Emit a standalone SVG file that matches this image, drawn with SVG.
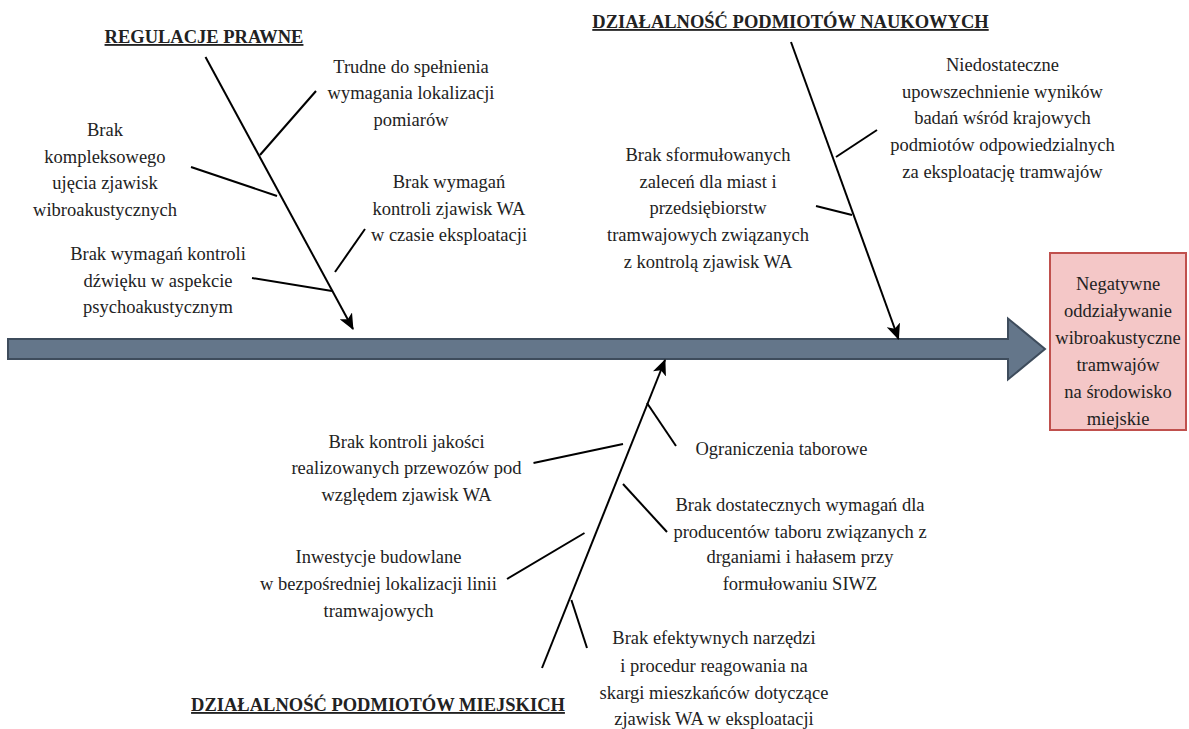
<svg xmlns="http://www.w3.org/2000/svg" width="1189" height="729" viewBox="0 0 1189 729">
<defs>
<style>
text{font-family:"Liberation Serif","Times New Roman",serif;font-size:18.5px;fill:#222;text-anchor:middle}
.title{font-weight:bold;text-decoration:underline}
.bone{stroke:#000;stroke-width:2;fill:none}
.br{stroke:#000;stroke-width:2;fill:none}
</style>
<marker id="ah" viewBox="0 0 16 14" refX="15" refY="7" markerWidth="16" markerHeight="14" markerUnits="userSpaceOnUse" orient="auto">
<path d="M0,0 L16,7 L0,14 L4,7 Z" fill="#000"/>
</marker>
</defs>
<rect width="1189" height="729" fill="#fff"/>
<g id="spine">
<path d="M8,339 H1008 V318.5 L1045,349 L1008,379.5 V359 H8 Z" fill="#64768a" stroke="#3e4c5c" stroke-width="2"/>
</g>
<g id="effect">
<rect x="1050" y="253" width="136" height="177" fill="#f4c7c7" stroke="#c0504d" stroke-width="2"/>
<text x="1118" y="290">Negatywne</text>
<text x="1118" y="317">oddziaływanie</text>
<text x="1118" y="344">wibroakustyczne</text>
<text x="1118" y="371">tramwajów</text>
<text x="1118" y="398">na środowisko</text>
<text x="1118" y="425">miejskie</text>
</g>
<g id="connectors">
<line class="bone" x1="205.5" y1="57" x2="353" y2="329" marker-end="url(#ah)"/>
<line class="bone" x1="791" y1="42" x2="898.5" y2="339" marker-end="url(#ah)"/>
<line class="bone" x1="542" y1="668" x2="665" y2="360" marker-end="url(#ah)"/>
<line class="br" x1="260" y1="155" x2="316" y2="91"/>
<line class="br" x1="191" y1="167" x2="277" y2="196"/>
<line class="br" x1="365" y1="229" x2="335" y2="272"/>
<line class="br" x1="252" y1="278" x2="332" y2="291"/>
<line class="br" x1="836" y1="157" x2="877" y2="130"/>
<line class="br" x1="816" y1="206" x2="852" y2="215"/>
<line class="br" x1="647" y1="403" x2="676" y2="446"/>
<line class="br" x1="623" y1="444" x2="533.5" y2="463"/>
<line class="br" x1="623" y1="484" x2="667" y2="532"/>
<line class="br" x1="584.5" y1="533" x2="507" y2="579"/>
<line class="br" x1="571.4" y1="600" x2="587" y2="648"/>
</g>
<g id="cat-regulacje">
<text class="title" x="204" y="43">REGULACJE PRAWNE</text>
</g>
<g id="cause-trudne">
<text x="411" y="73">Trudne do spełnienia</text>
<text x="411" y="99">wymagania lokalizacji</text>
<text x="411" y="126">pomiarów</text>
</g>
<g id="cause-kompleksowego">
<text x="105" y="136">Brak</text>
<text x="105" y="163">kompleksowego</text>
<text x="105" y="189">ujęcia zjawisk</text>
<text x="105" y="216">wibroakustycznych</text>
</g>
<g id="cause-eksploatacja">
<text x="449" y="188">Brak wymagań</text>
<text x="449" y="215">kontroli zjawisk WA</text>
<text x="449" y="241">w czasie eksploatacji</text>
</g>
<g id="cause-dzwiek">
<text x="158" y="260">Brak wymagań kontroli</text>
<text x="158" y="287">dźwięku w aspekcie</text>
<text x="158" y="313">psychoakustycznym</text>
</g>
<g id="cat-naukowe">
<text class="title" x="790.5" y="28">DZIAŁALNOŚĆ PODMIOTÓW NAUKOWYCH</text>
</g>
<g id="cause-upowszechnienie">
<text x="1002.5" y="71">Niedostateczne</text>
<text x="1002.5" y="98">upowszechnienie wyników</text>
<text x="1002.5" y="124">badań wśród krajowych</text>
<text x="1002.5" y="151">podmiotów odpowiedzialnych</text>
<text x="1002.5" y="178">za eksploatację tramwajów</text>
</g>
<g id="cause-zalecenia">
<text x="708" y="161">Brak sformułowanych</text>
<text x="708" y="188">zaleceń dla miast i</text>
<text x="708" y="214">przedsiębiorstw</text>
<text x="708" y="241">tramwajowych związanych</text>
<text x="708" y="268">z kontrolą zjawisk WA</text>
</g>
<g id="cat-miejskie">
<text class="title" x="378" y="711">DZIAŁALNOŚĆ PODMIOTÓW MIEJSKICH</text>
</g>
<g id="cause-jakosc">
<text x="406.5" y="448">Brak kontroli jakości</text>
<text x="406.5" y="474">realizowanych przewozów pod</text>
<text x="406.5" y="501">względem zjawisk WA</text>
</g>
<g id="cause-taborowe">
<text x="781.5" y="455">Ograniczenia taborowe</text>
</g>
<g id="cause-producenci">
<text x="800" y="511">Brak dostatecznych wymagań dla</text>
<text x="800" y="538">producentów taboru związanych z</text>
<text x="800" y="563">drganiami i hałasem przy</text>
<text x="800" y="590">formułowaniu SIWZ</text>
</g>
<g id="cause-inwestycje">
<text x="378.5" y="563">Inwestycje budowlane</text>
<text x="378.5" y="590">w bezpośredniej lokalizacji linii</text>
<text x="378.5" y="617">tramwajowych</text>
</g>
<g id="cause-skargi">
<text x="714" y="644">Brak efektywnych narzędzi</text>
<text x="714" y="672">i procedur reagowania na</text>
<text x="714" y="699">skargi mieszkańców dotyczące</text>
<text x="714" y="725">zjawisk WA w eksploatacji</text>
</g>
</svg>
